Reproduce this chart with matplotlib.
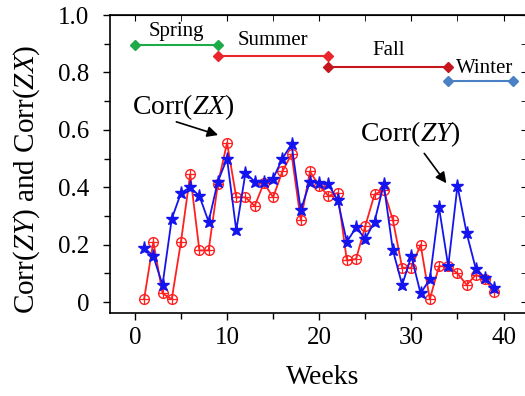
import matplotlib
matplotlib.use("Agg")
import matplotlib.pyplot as plt
from matplotlib.ticker import MultipleLocator, FixedLocator, FixedFormatter

plt.rcParams['font.family'] = ['Liberation Serif', 'DejaVu Serif']
plt.rcParams['mathtext.fontset'] = 'custom'
plt.rcParams['mathtext.rm'] = 'Liberation Serif'
plt.rcParams['mathtext.it'] = 'Liberation Serif:italic'

weeks = list(range(1, 40))
corr_zy = [0.19, 0.16, 0.06, 0.29, 0.38, 0.40, 0.37, 0.28, 0.42, 0.50,
           0.25, 0.45, 0.42, 0.42, 0.43, 0.50, 0.55, 0.32, 0.42, 0.415,
           0.41, 0.355, 0.21, 0.26, 0.22, 0.28, 0.41, 0.18, 0.06, 0.16,
           0.03, 0.08, 0.33, 0.125, 0.405, 0.24, 0.115, 0.085, 0.05]
corr_zx = [0.01, 0.21, 0.03, 0.01, 0.21, 0.445, 0.18, 0.18, 0.41, 0.555,
           0.365, 0.365, 0.335, 0.415, 0.365, 0.455, 0.515, 0.285, 0.455, 0.405,
           0.37, 0.38, 0.145, 0.15, 0.265, 0.375, 0.39, 0.285, 0.12, 0.12,
           0.20, 0.01, 0.125, 0.125, 0.10, 0.06, 0.095, 0.08, 0.035]

seasons = ["Spring", "Summer", "Fall", "Winter"]
season_start = [0, 9, 21, 34]
season_end = [9, 21, 34, 41]
season_level = [0.895, 0.858, 0.82, 0.77]
season_colors = ["#1faa4a", "#e8262c", "#c4161c", "#4a80c4"]
label_pos = [(4.5, 0.943), (15.0, 0.91), (27.5, 0.876), (37.9, 0.813)]

yticks = [0, 0.2, 0.4, 0.6, 0.8, 1.0]
ytick_labels = ["0", "0.2", "0.4", "0.6", "0.8", "1.0"]
xticks = [0, 10, 20, 30, 40]

fig = plt.figure(figsize=(5.25, 3.96), dpi=100)
ax = fig.add_axes([0.2095, 0.2096, 1.003 - 0.2095, 0.962 - 0.2096])

# red circles with a cross
ax.plot(weeks, corr_zx, color="#ff2020", lw=1.3, marker="o", ms=7,
        mfc="none", mec="#ff2020", mew=1.0, zorder=2)
ax.plot(weeks, corr_zx, ls="none", marker="+", ms=7, mec="#ff2020",
        mew=0.9, zorder=2)
# blue stars
ax.plot(weeks, corr_zy, color="#1414ee", lw=1.3, marker="*", ms=9.5,
        mfc="#1414ee", mec="#1414ee", zorder=3)

for i in range(len(seasons)):
    ax.plot([season_start[i], season_end[i]], [season_level[i]] * 2,
            color=season_colors[i], lw=1.5, marker="D", ms=5)
    ax.text(label_pos[i][0], label_pos[i][1], seasons[i], fontsize=15,
            ha="center", va="center")

arrow = dict(arrowstyle="-|>", color="black", lw=1.2,
             shrinkA=0, shrinkB=0, mutation_scale=16)
ax.text(5.3, 0.68, "Corr($\\mathit{ZX}$)", fontsize=20, ha="center", va="center")
ax.annotate("", xy=(9.03, 0.582), xytext=(4.5, 0.628), arrowprops=arrow)
ax.text(29.9, 0.585, "Corr($\\mathit{ZY}$)", fontsize=20, ha="center", va="center")
ax.annotate("", xy=(33.8, 0.414), xytext=(31.4, 0.518), arrowprops=arrow)

ax.set_xlim(-2.7, 42.5)
ax.set_ylim(-0.038, 1.0)
ax.xaxis.set_major_locator(FixedLocator(xticks))
ax.xaxis.set_minor_locator(MultipleLocator(5))
ax.yaxis.set_major_locator(FixedLocator(yticks))
ax.yaxis.set_major_formatter(FixedFormatter(ytick_labels))
ax.yaxis.set_minor_locator(MultipleLocator(0.1))
ax.tick_params(which="both", direction="out", labelsize=18, width=1.0)
ax.tick_params(which="major", length=5)
ax.tick_params(which="minor", length=4)
ax.tick_params(axis="y", pad=10)
ax.tick_params(axis="x", pad=5)

top = ax.secondary_xaxis("top")
top.xaxis.set_major_locator(FixedLocator(xticks))
top.xaxis.set_minor_locator(MultipleLocator(5))
top.tick_params(which="both", direction="in", labeltop=False, length=4)
right = ax.secondary_yaxis("right")
right.yaxis.set_major_locator(FixedLocator(yticks))
right.yaxis.set_minor_locator(MultipleLocator(0.1))
right.tick_params(which="both", direction="in", labelright=False, length=4)

for s in ax.spines.values():
    s.set_linewidth(1.2)

ax.set_xlabel("Weeks", fontsize=20)
ax.set_ylabel("Corr($\\mathit{ZY}$) and Corr($\\mathit{ZX}$)", fontsize=21)
ax.yaxis.set_label_coords(-0.164, 0.45)
ax.xaxis.set_label_coords(0.51, -0.175)

fig.savefig("out.png", dpi=100)
